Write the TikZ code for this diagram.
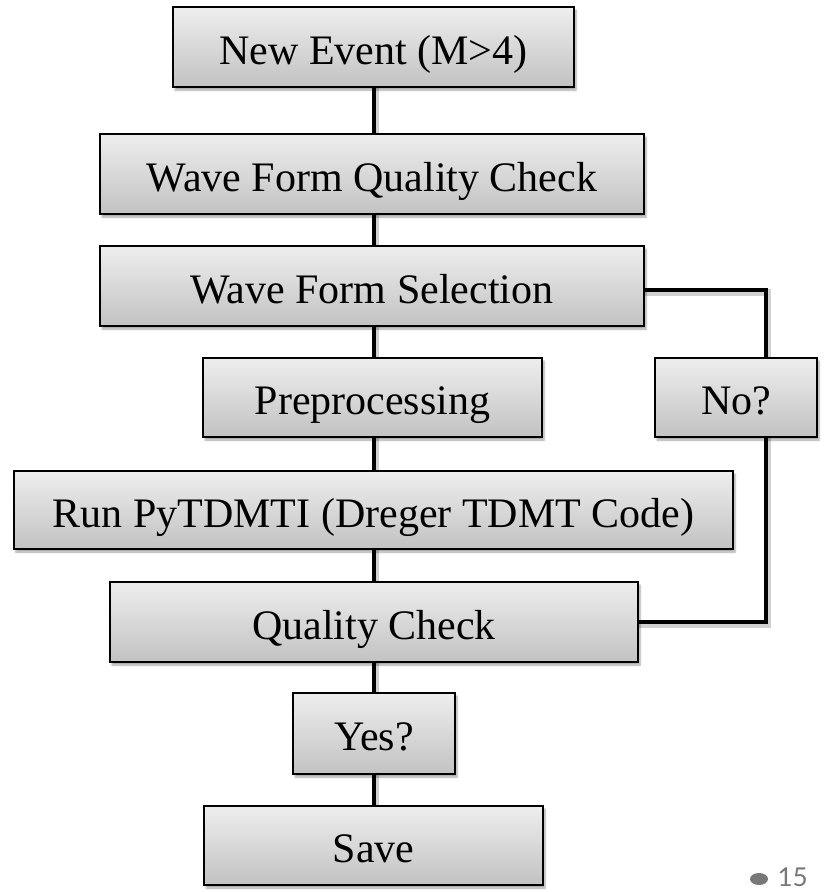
\documentclass[tikz,border=0pt]{standalone}
\usepackage{fontspec}
\setmainfont{Liberation Serif}
\newfontfamily\numfont{Lato}
\usetikzlibrary{shadows.blur}

\definecolor{boxtop}{RGB}{238,238,238}
\definecolor{boxbot}{RGB}{194,194,194}
\definecolor{pagegray}{RGB}{120,120,120}

\tikzset{
  stepbox/.style={
    draw=black, line width=2pt, rectangle, inner sep=0pt,
    top color=boxtop, bottom color=boxbot,
    blur shadow={shadow xshift=2pt, shadow yshift=-3pt, shadow blur steps=6, shadow opacity=35},
    font=\fontsize{42}{46}\selectfont,
    text height=34pt, text depth=0pt
  },
  wire/.style={
    line width=4.5pt, draw=black,
    preaction={draw=black, opacity=0.18, line width=7pt,
      transform canvas={shift={(1.5pt,-2.5pt)}}}
  }
}

\begin{document}
\begin{tikzpicture}[x=1pt, y=-1pt]
  \useasboundingbox (0,0) rectangle (827,892);

  % guide columns for the connectors
  \coordinate (spine) at (374,0);
  \coordinate (loop)  at (766,0);

  % box centres
  \path
    (373.5,47)  coordinate (p1)
    (372,174)   coordinate (p2)
    (372,286)   coordinate (p3)
    (372.5,397.5) coordinate (p4)
    (736,397.5) coordinate (p5)
    (373.5,510) coordinate (p6)
    (374,622)   coordinate (p7)
    (374,733.5) coordinate (p8)
    (373.5,845.5) coordinate (p9);

  % connectors first, so the boxes sit on top of them
  \draw[wire] (p1 -| spine) -- (p9 -| spine);
  \draw[wire] ([yshift=-4pt]p3) -- ([yshift=-4pt]p3 -| loop) -- (p7 -| loop) -- (p7);

  % process boxes
  \node[stepbox, minimum width=401pt, minimum height=80pt] (b1) at (p1) {New Event (M>4)};
  \node[stepbox, minimum width=544pt, minimum height=80pt] (b2) at (p2) {Wave Form Quality Check};
  \node[stepbox, minimum width=544pt, minimum height=80pt] (b3) at (p3) {Wave Form Selection};
  \node[stepbox, minimum width=339pt, minimum height=79pt] (b4) at (p4) {Preprocessing};
  \node[stepbox, minimum width=162pt, minimum height=79pt] (no) at (p5) {No?};
  \node[stepbox, minimum width=719pt, minimum height=78pt] (b5) at (p6) {Run PyTDMTI (Dreger TDMT Code)};
  \node[stepbox, minimum width=528pt, minimum height=80pt] (b6) at (p7) {Quality Check};
  \node[stepbox, minimum width=162pt, minimum height=81pt] (yes) at (p8) {Yes?};
  \node[stepbox, minimum width=339pt, minimum height=79pt] (b7) at (p9) {Save};

  % slide number
  \fill[pagegray] (759,879) ellipse (9pt and 6pt);
  \node[anchor=base east, inner sep=0pt, text=pagegray,
        font=\numfont\fontsize{26}{28}\selectfont] (pg) at (808,886) {15};
\end{tikzpicture}
\end{document}
